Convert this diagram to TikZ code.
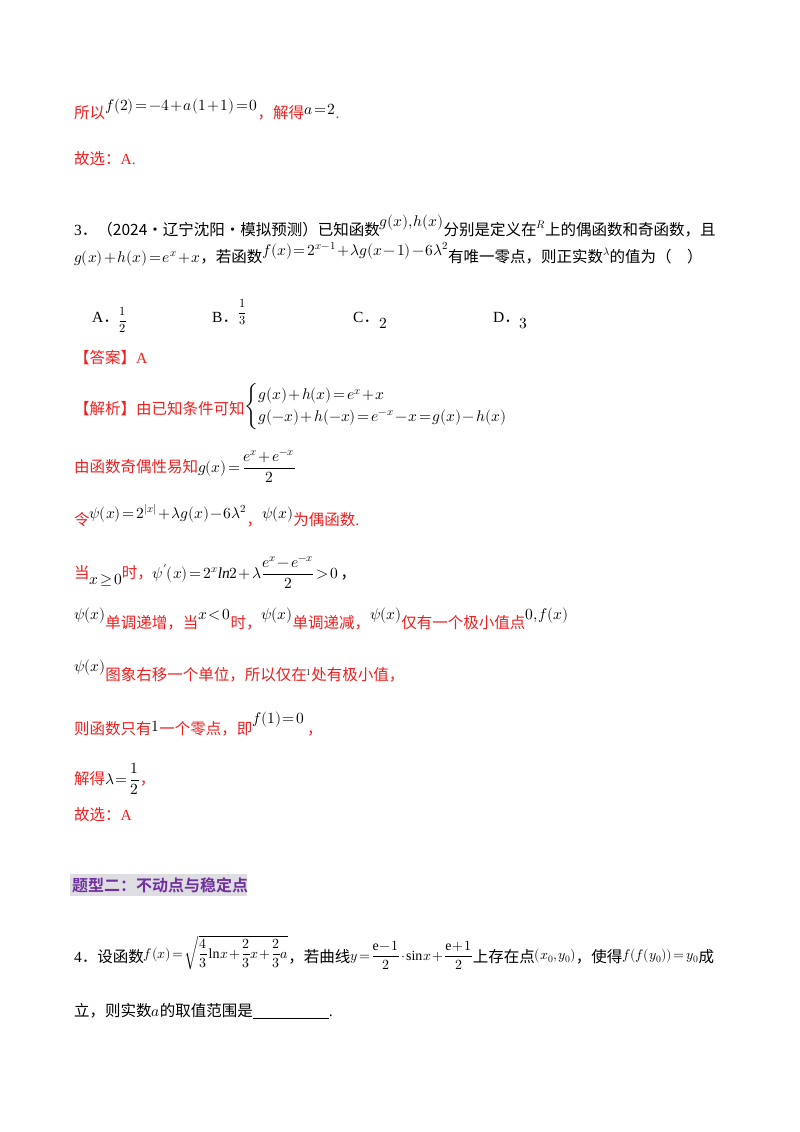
\documentclass[tikz,border=0pt]{standalone}
\usepackage{amsmath}
\usepackage{fontspec}
\usepackage{unicode-math}
\setmathfont{Latin Modern Math}
\setmainfont{Liberation Serif}
\newfontfamily\cjk[Scale=1.0]{Noto Sans CJK SC}
\newfontfamily\cjkb[Scale=1.0]{Noto Sans CJK SC Bold}
\definecolor{ansred}{RGB}{240,30,30}
\definecolor{headpurple}{RGB}{112,48,160}
\definecolor{headbg}{RGB}{222,222,226}
\newcommand{\tightmath}{\thinmuskip=1mu\medmuskip=1.5mu plus 1mu\thickmuskip=2mu plus 1mu}
\begin{document}
\begin{tikzpicture}[x=1pt,y=-1pt,
  t/.style={anchor=base west,inner sep=0pt,font=\fontsize{15.5}{18}\selectfont\tightmath},
  r/.style={t,text=ansred}]
\useasboundingbox (0,0) rectangle (800,1132);
\node[r] (l1) at (74,118) {{\cjk 所以}\raisebox{8pt}{\color{black}$f(2)=-4+a(1+1)=0$}{\cjk ，解得}\raisebox{4pt}{\color{black}$a=2$}.};
\node[r] (l2) at (74,164) {{\cjk 故选：}A.};
\node[t] (l3) at (74,235) {3{\cjk ．（2024·辽宁沈阳·模拟预测）已知函数}\raisebox{9pt}{$g(x),h(x)$}{\cjk 分别是定义在}\raisebox{7pt}{$\scriptstyle R$}{\cjk 上的偶函数和奇函数，且}};
\node[t] (l4) at (74,262) {$g(x)+h(x)=e^x+x${\cjk ，若函数}\raisebox{7pt}{$f(x)=2^{x-1}+\lambda g(x-1)-6\lambda^2$}{\cjk 有唯一零点，则正实数}\raisebox{7pt}{$\scriptstyle\lambda$}{\cjk 的值为（\quad ）}};
\node[t] (oa) at (92,322) {A{\cjk ．}\raisebox{-2pt}{\scalebox{0.8}{$\dfrac12$}}};
\node[t] (ob) at (212,322) {B{\cjk ．}\raisebox{6pt}{\scalebox{0.8}{$\dfrac13$}}};
\node[t] (oc) at (353,322) {C{\cjk ．}\raisebox{-6pt}{$2$}};
\node[t] (od) at (493,322) {D{\cjk ．}\raisebox{-6pt}{$3$}};
\node[r] (ans) at (74,363) {{\cjk 【答案】}A};
\node[r] (jx) at (74,414) {{\cjk 【解析】由已知条件可知}\raisebox{4pt}{\color{black}$\begin{cases}g(x)+h(x)=e^x+x\\ g(-x)+h(-x)=e^{-x}-x=g(x)-h(x)\end{cases}$}};
\node[r] (l7) at (74,472) {{\cjk 由函数奇偶性易知}\color{black}$g(x)=\dfrac{e^x+e^{-x}}{2}$};
\node[r] (l8) at (74,525) {{\cjk 令}\raisebox{7pt}{\color{black}$\psi(x)=2^{|x|}+\lambda g(x)-6\lambda^2$}{\cjk ，}\raisebox{7pt}{\color{black}$\psi(x)$}{\cjk 为偶函数}.};
\node[r] (l9) at (74,578) {{\cjk 当}\raisebox{-6pt}{\color{black}$x\ge0$}{\cjk 时，}\color{black}$\psi'(x)=2^x\mathit{ln}2+\lambda\dfrac{e^x-e^{-x}}{2}>0$\,{\cjk ，}};
\node[r] (l10) at (74,628) {\raisebox{9pt}{\color{black}$\psi(x)$}{\cjk 单调递增，当}\raisebox{9pt}{\color{black}$x<0$}{\cjk 时，}\raisebox{9pt}{\color{black}$\psi(x)$}{\cjk 单调递减，}\raisebox{9pt}{\color{black}$\psi(x)$}{\cjk 仅有一个极小值点}\raisebox{9pt}{\color{black}$0,f(x)$}};
\node[r] (l11) at (74,680) {\raisebox{9pt}{\color{black}$\psi(x)$}{\cjk 图象右移一个单位，所以仅在}\raisebox{5pt}{\color{black}\small$1$}{\cjk 处有极小值，}};
\node[r] (l12) at (74,734) {{\cjk 则函数只有}\raisebox{3pt}{\color{black}$1$}{\cjk 一个零点，即}\raisebox{11pt}{\color{black}$f(1)=0$}\,{\cjk ，}};
\node[r] (l13) at (74,784) {{\cjk 解得}\color{black}$\lambda=\dfrac12$\color{ansred}{\cjk ，}};
\node[r] (l14) at (74,820) {{\cjk 故选：}A};
\fill[headbg] (70,874) rectangle (247,896);
\node[t,text=headpurple,font=\fontsize{16}{18}\selectfont] (hd) at (72,891) {\cjkb 题型二：不动点与稳定点};
\node[t] (q4) at (74,962) {4{\cjk ．设函数}\raisebox{4pt}{\scalebox{0.9}{$f(x)=\sqrt{\dfrac43\ln x+\dfrac23x+\dfrac23a}$}}{\cjk ，若曲线}\raisebox{2pt}{\scalebox{0.9}{$y=\dfrac{\mathrm{e}-1}{2}\cdot\sin x+\dfrac{\mathrm{e}+1}{2}$}}{\cjk 上存在点}\raisebox{3pt}{\scalebox{0.9}{$(x_0,y_0)$}}{\cjk ，使得}\raisebox{3pt}{\scalebox{0.9}{$f(f(y_0))=y_0$}}{\cjk 成}};
\node[t] (q5) at (74,1016) {{\cjk 立，则实数}$a${\cjk 的取值范围是}\underline{\hspace{76pt}}.};
\end{tikzpicture}
\end{document}
